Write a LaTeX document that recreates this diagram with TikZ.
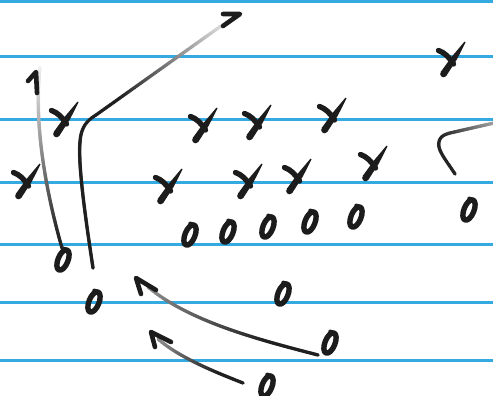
\documentclass[tikz,border=0pt]{standalone}
\usetikzlibrary{decorations.markings,calc}
\definecolor{ruled}{RGB}{52,170,224}
\definecolor{ink}{RGB}{28,28,28}
\tikzset{
  rule/.style={ruled, line width=3pt},
  pen/.style={ink, line width=5.4pt, line cap=round, line join=round},
  tippen/.style={ink, line width=4.6pt, line cap=round, line join=round},
  fadeline/.style n args={3}{decorate, decoration={markings,
      mark=between positions 0 and 1 step 0.7pt with {%
        \pgfmathsetmacro\fr{\pgfkeysvalueof{/pgf/decoration/mark info/distance from start}/\pgfdecoratedpathlength}%
        \pgfmathtruncatemacro\pc{\fr<#3 ? #1 : #1+(#2-#1)*(\fr-#3)/(1-#3)}%
        \fill[black!\pc!white] (0,0) circle (1.8pt);}}},
  xmark/.pic={
    \fill[ink] (-10.3,12) -- (1.0,-3.6) -- (13.5,-18.4) -- (14.5,-17.6) -- (5.8,-0.4) -- (-4.8,16) -- cycle;
    \fill[ink] (-7.55,14) circle (3.3pt);
    \draw[pen] (-12.5,-9.5) .. controls (-6.5,-7.5) and (-1.5,-2.5) .. (2.5,4);
  },
  omark/.pic={
    \draw[pen, line width=5.4pt, rotate=-22] (0,0) ellipse [x radius=5pt, y radius=10.8pt];
    \draw[pen, line width=4pt] (4,-10.2) -- (0.2,-11.4);
  }
}
\begin{document}
\begin{tikzpicture}[x=1pt,y=-1pt]
\useasboundingbox (0,0) rectangle (493,396);
\fill[white] (0,0) rectangle (493,396);
% ruled lines
\foreach \yy in {1.2,56.5,119,182,244.5,302,360}
  \draw[rule] (0,\yy) -- (493,\yy);
% X marks
\foreach \nm/\px/\py in {x1/451/60, x2/64/120, x3/203/126, x4/257/123, x5/332/116,
                        x6/26/182, x7/168/187, x8/248/182, x9/297/177, x10/373/164}
  \coordinate (\nm) at (\px,\py);
\foreach \nm in {x1,x2,x3,x4,x5,x6,x7,x8,x9,x10}
  \pic at (\nm) {xmark};
% O marks
\foreach \nm/\px/\py in {o1/63/260, o2/94/302, o3/190/235, o4/228/232, o5/268/227,
                        o6/310/222, o7/356/217, o8/469/210, o9/283/294, o10/330/343, o11/267/386}
  \coordinate (\nm) at (\px,\py);
\foreach \nm in {o1,o2,o3,o4,o5,o6,o7,o8,o9,o10,o11}
  \pic at (\nm) {omark};
% connector A
\coordinate (aS) at ($(o1)+(-1,-12)$);
\coordinate (aE) at (40,67);
\path[fadeline={86}{6}{0.08}] (aS) .. controls (44,185) and (34,120) .. (aE);
\draw[tippen] (28,81) -- (36,72) -- (37,93);
% connector B
\coordinate (bS) at ($(o2)+(-1,-34)$);
\coordinate (bE) at (221,26);
\path[fadeline={88}{15}{0.6}] (bS) .. controls (85,215) and (78,165) .. (80,142)
   .. controls (81,128) and (86,121) .. (96,115) -- (bE);
\draw[tippen] (223,14) -- (240,14) -- (223,26);
% connector C
\coordinate (cS) at (455,174);
\coordinate (cE) at (494,123);
\path[fadeline={86}{38}{0.45}] (cS) .. controls (446,160) and (437,150) .. (439,142)
   .. controls (440,137) and (443,135) .. (450,133) -- (cE);
% connector D
\coordinate (dS) at ($(o10)+(-12,12)$);
\coordinate (dE) at (148,287);
\path[fadeline={88}{45}{0.3}] (dS) .. controls (260,340) and (190,322) .. (dE);
\draw[tippen] (141,294) -- (136,278) -- (156,290);
% connector E
\coordinate (eS) at ($(o11)+(-24,-3)$);
\coordinate (eE) at (158,339);
\path[fadeline={88}{45}{0.3}] (eS) .. controls (215,372) and (180,358) .. (eE);
\draw[tippen] (155,347) -- (151,332) -- (171,342);
\end{tikzpicture}
\end{document}
